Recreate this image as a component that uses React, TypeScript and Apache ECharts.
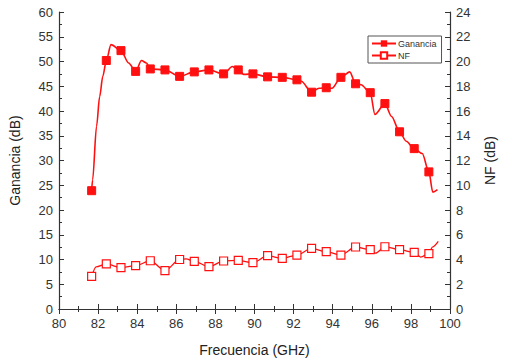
import React, { useEffect, useRef } from "react";
import * as echarts from "echarts";

const markerFreq = [81.67, 82.42, 83.17, 83.92, 84.67, 85.42, 86.17, 86.92, 87.67, 88.42, 89.17, 89.92, 90.67, 91.42, 92.17, 92.92, 93.67, 94.42, 95.17, 95.92, 96.67, 97.42, 98.17, 98.92];
const gainMarkers = [23.9, 50.2, 52.2, 48.0, 48.5, 48.3, 47.0, 47.9, 48.3, 47.5, 48.3, 47.5, 46.9, 46.8, 46.3, 43.8, 44.7, 46.8, 45.5, 43.7, 41.5, 35.8, 32.4, 27.7];
const gainExtraFreq = [81.72, 81.92, 82.08, 82.24, 82.66, 83.56, 84.22, 84.47, 88.87, 89.45, 92.39, 93.3, 93.96, 94.87, 95.45, 96.16, 97.01, 97.76, 98.58, 99.12, 99.36];
const gainExtraVal = [26.1, 36.9, 42.9, 47.0, 53.4, 49.7, 50.2, 49.7, 49.0, 47.4, 46.0, 44.6, 44.6, 47.9, 45.3, 39.3, 38.9, 33.9, 31.4, 23.6, 24.1];
const nfMarkers = [2.63, 3.64, 3.34, 3.5, 3.9, 3.1, 4.0, 3.85, 3.42, 3.88, 3.93, 3.74, 4.31, 4.09, 4.36, 4.9, 4.63, 4.36, 5.01, 4.79, 5.03, 4.79, 4.57, 4.47];
const nfExtraFreq = [81.9, 86.5, 96.19, 98.5, 99.1, 99.4];
const nfExtraVal = [3.4, 4.05, 4.52, 4.2, 5.0, 5.46];

const xTicks = { min: 80, max: 100, interval: 2 };
const yLeftTicks = { min: 0, max: 60, interval: 5 };
const yRightTicks = { min: 0, max: 24, interval: 2 };

function merge(mf: number[], mv: number[], ef: number[], ev: number[]) {
  const pts: any[] = [];
  mf.forEach((f, i) => pts.push({ value: [f, mv[i]] }));
  ef.forEach((f, i) => pts.push({ value: [f, ev[i]], symbol: "none" }));
  pts.sort((a, b) => a.value[0] - b.value[0]);
  return pts;
}

const FONT = "Arial, 'Liberation Sans', sans-serif";
const AX = "#333";
const RED = "#ff1010";

export default function App() {
  const ref = useRef<HTMLDivElement>(null);
  useEffect(() => {
    if (!ref.current) return;
    const chart = echarts.init(ref.current, undefined, { renderer: "svg" });
    const axisCommon = {
      axisLine: { show: true, lineStyle: { color: AX, width: 1.2 } },
      axisTick: { show: true, inside: true, length: 5, lineStyle: { color: AX } },
      minorTick: { show: true, splitNumber: 2, length: 3, lineStyle: { color: AX } },
      splitLine: { show: false },
      axisLabel: { color: "#333", fontSize: 13, fontFamily: FONT },
      nameTextStyle: { color: "#222", fontSize: 14, fontFamily: FONT },
    };
    chart.setOption({
      animation: false,
      backgroundColor: "#fff",
      grid: { left: 58, right: 43, top: 12, bottom: 54, containLabel: false },
      legend: {
        left: 368,
        top: 36,
        orient: "vertical",
        itemWidth: 24,
        itemHeight: 8,
        itemGap: 3,
        padding: [3, 5, 3, 3],
        borderColor: "#555",
        borderWidth: 1,
        textStyle: { fontSize: 9, fontFamily: FONT, color: "#333", padding: [0, 0, 0, -3] },
        data: ["Ganancia", "NF"],
      },
      xAxis: [
        {
          type: "value",
          ...xTicks,
          ...axisCommon,
          position: "bottom",
          name: "Frecuencia (GHz)",
          nameLocation: "middle",
          nameGap: 34,
          axisLabel: { ...axisCommon.axisLabel, margin: 8 },
        },
        {
          type: "value",
          ...xTicks,
          ...axisCommon,
          position: "top",
          axisLabel: { show: false },
        },
      ],
      yAxis: [
        {
          type: "value",
          ...yLeftTicks,
          ...axisCommon,
          position: "left",
          name: "Ganancia (dB)",
          nameLocation: "middle",
          nameRotate: 90,
          nameGap: 37,
          axisLabel: { ...axisCommon.axisLabel, margin: 6 },
        },
        {
          type: "value",
          ...yRightTicks,
          ...axisCommon,
          position: "right",
          name: "NF (dB)",
          nameLocation: "middle",
          nameRotate: 90,
          nameGap: 33,
          axisLabel: { ...axisCommon.axisLabel, margin: 6 },
        },
      ],
      series: [
        {
          name: "Ganancia",
          type: "line",
          xAxisIndex: 0,
          yAxisIndex: 0,
          smooth: 0.3,
          smoothMonotone: "x",
          symbol: "rect",
          symbolSize: 8,
          showAllSymbol: true,
          lineStyle: { color: RED, width: 1.6 },
          itemStyle: { color: RED, borderColor: RED },
          data: merge(markerFreq, gainMarkers, gainExtraFreq, gainExtraVal),
        },
        {
          name: "NF",
          type: "line",
          xAxisIndex: 0,
          yAxisIndex: 1,
          smooth: 0.3,
          smoothMonotone: "x",
          symbol: "rect",
          symbolSize: 8,
          showAllSymbol: true,
          lineStyle: { color: RED, width: 1.3 },
          itemStyle: { color: "#fff", borderColor: RED, borderWidth: 1.2 },
          data: merge(markerFreq, nfMarkers, nfExtraFreq, nfExtraVal),
        },
      ],
    });
    return () => chart.dispose();
  }, []);
  return <div ref={ref} style={{ width: 505, height: 363, position: "absolute", left: 0, top: 0 }} />;
}
